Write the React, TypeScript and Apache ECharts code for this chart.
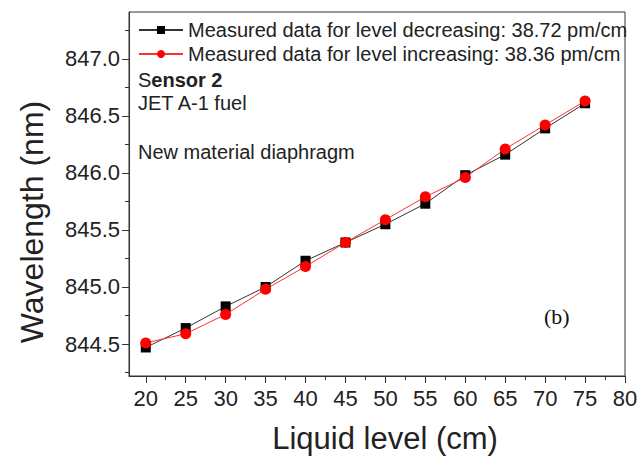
import React, { useEffect, useRef } from "react";
import * as echarts from "echarts";

const levels = [20, 25, 30, 35, 40, 45, 50, 55, 60, 65, 70, 75];
const decreasing = [844.47, 844.64, 844.83, 845.0, 845.23, 845.39, 845.55, 845.73, 845.98, 846.16, 846.39, 846.61];
const increasing = [844.51, 844.59, 844.76, 844.98, 845.18, 845.39, 845.59, 845.79, 845.96, 846.21, 846.42, 846.63];
const xMajor = [20, 25, 30, 35, 40, 45, 50, 55, 60, 65, 70, 75, 80];
const xMinor = [22.5, 27.5, 32.5, 37.5, 42.5, 47.5, 52.5, 57.5, 62.5, 67.5, 72.5, 77.5];
const yMajor = [844.5, 845.0, 845.5, 846.0, 846.5, 847.0];
const yMinor = [844.25, 844.75, 845.25, 845.75, 846.25, 846.75, 847.25];
const seriesNames = [
  "Measured data for level decreasing: 38.72 pm/cm",
  "Measured data for level increasing: 38.36 pm/cm",
];

const FONT = "'Liberation Sans', Arial, sans-serif";
const X_MIN = 17.9, X_MAX = 80, Y_MIN = 844.22, Y_MAX = 847.41;

export default function App() {
  const ref = useRef<HTMLDivElement>(null);
  useEffect(() => {
    if (!ref.current) return;
    const chart = echarts.init(ref.current, undefined, { renderer: "svg" });
    const axisLine = { show: true, lineStyle: { color: "#333", width: 1 } };
    chart.setOption({
      animation: false,
      backgroundColor: "#fff",
      textStyle: { fontFamily: FONT },
      grid: { left: 129, right: 16, top: 12, bottom: 80, show: true, borderColor: "#333", borderWidth: 1, backgroundColor: "transparent" },
      xAxis: [
        {
          type: "value", min: X_MIN, max: X_MAX, position: "bottom",
          axisLine,
          axisTick: { show: true, customValues: xMajor, length: 7, lineStyle: { color: "#333" } },
          axisLabel: { customValues: xMajor, fontSize: 22, color: "#222", margin: 11, fontFamily: FONT },
          splitLine: { show: false },
        },
        {
          type: "value", min: X_MIN, max: X_MAX, position: "bottom",
          axisLine: { show: false },
          axisTick: { show: true, customValues: xMinor, length: 4, lineStyle: { color: "#333" } },
          axisLabel: { show: false },
          splitLine: { show: false },
        },
      ],
      yAxis: [
        {
          type: "value", min: Y_MIN, max: Y_MAX, position: "left",
          axisLine,
          axisTick: { show: true, customValues: yMajor, length: 7, lineStyle: { color: "#333" } },
          axisLabel: { customValues: yMajor, fontSize: 22, color: "#222", margin: 9, fontFamily: FONT, formatter: (v: number) => v.toFixed(1) },
          splitLine: { show: false },
        },
        {
          type: "value", min: Y_MIN, max: Y_MAX, position: "left",
          axisLine: { show: false },
          axisTick: { show: true, customValues: yMinor, length: 4, lineStyle: { color: "#333" } },
          axisLabel: { show: false },
          splitLine: { show: false },
        },
      ],
      legend: {
        orient: "vertical", left: 138, top: 18, padding: 0, itemWidth: 44, itemHeight: 10, itemGap: 0,
        textStyle: { fontSize: 20, color: "#222", fontFamily: FONT, lineHeight: 24 },
        data: seriesNames,
      },
      series: [
        {
          name: seriesNames[0], type: "line", xAxisIndex: 0, yAxisIndex: 0,
          data: levels.map((x, i) => [x, decreasing[i]]),
          symbol: "rect", symbolSize: 10,
          itemStyle: { color: "#000" },
          lineStyle: { color: "#333", width: 1 },
        },
        {
          name: seriesNames[1], type: "line", xAxisIndex: 0, yAxisIndex: 0,
          data: levels.map((x, i) => [x, increasing[i]]),
          symbol: "circle", symbolSize: 11,
          itemStyle: { color: "#ff0000" },
          lineStyle: { color: "#ff3030", width: 1 },
        },
      ],
      graphic: [
        {
          type: "text", x: 138, y: 80,
          style: {
            text: "{n|S}{b|ensor 2}", verticalAlign: "middle",
            rich: {
              n: { fontSize: 20, fontFamily: FONT, fill: "#222" },
              b: { fontSize: 20, fontFamily: FONT, fontWeight: "bold", fill: "#222" },
            },
          },
        },
        { type: "text", x: 138, y: 103, style: { text: "JET A-1 fuel", fontSize: 20, fontFamily: FONT, fill: "#222", verticalAlign: "middle" } },
        { type: "text", x: 138, y: 152, style: { text: "New material diaphragm", fontSize: 20, fontFamily: FONT, fill: "#222", verticalAlign: "middle" } },
        { type: "text", x: 544, y: 316, style: { text: "(b)", fontSize: 22, fontFamily: "'Liberation Serif', 'Times New Roman', serif", fill: "#111", verticalAlign: "middle" } },
        {
          type: "text", x: 385, y: 438,
          style: { text: "Liquid level (cm)", fontSize: 31, fontFamily: FONT, fill: "#222", align: "center", verticalAlign: "middle" },
        },
        {
          type: "text", x: 32, y: 222, rotation: Math.PI / 2,
          style: { text: "Wavelength (nm)", fontSize: 32, fontFamily: FONT, fill: "#222", align: "center", verticalAlign: "middle" },
        },
      ],
    });
    return () => chart.dispose();
  }, []);
  return <div ref={ref} style={{ position: "fixed", left: 0, top: 0, width: 641, height: 456 }} />;
}
